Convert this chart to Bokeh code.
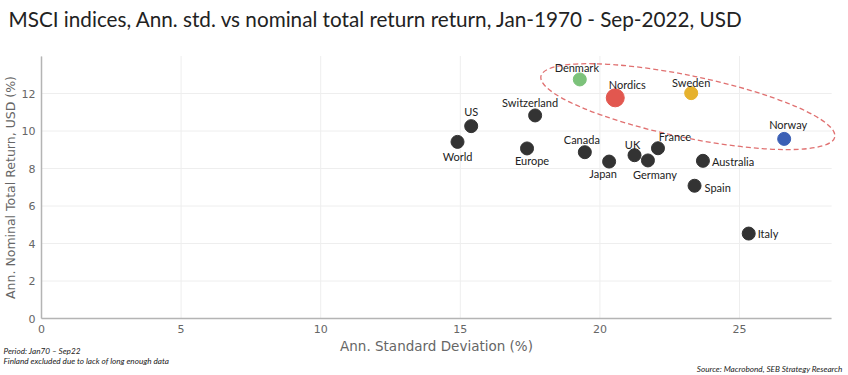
from bokeh.plotting import figure
from bokeh.models import Range1d, Label, ColumnDataSource, LabelSet, FixedTicker
from bokeh.embed import file_html
from bokeh.resources import INLINE
from bokeh.core.properties import value

# ---- data ----
names = ["World", "US", "Europe", "Switzerland", "Denmark", "Canada", "Japan", "Nordics",
         "UK", "Germany", "France", "Spain", "Sweden", "Australia", "Italy", "Norway"]
std_dev = [14.9, 15.39, 17.39, 17.68, 19.28, 19.46, 20.33, 20.55,
           21.24, 21.72, 22.08, 23.39, 23.27, 23.69, 25.33, 26.6]
total_return = [9.42, 10.26, 9.07, 10.83, 12.75, 8.87, 8.37, 11.77,
                8.71, 8.43, 9.08, 7.08, 12.02, 8.41, 4.53, 9.58]
x_ticks = [0, 5, 10, 15, 20, 25]
y_ticks = [0, 2, 4, 6, 8, 10, 12]
x_axis_end = 28.3
y_axis_end = 14
nordic_center = [23.15, 11.3]

TITLE = "MSCI indices, Ann. std. vs nominal total return return, Jan-1970 - Sep-2022, USD"
X_LABEL = "Ann. Standard Deviation (%)"
Y_LABEL = "Ann. Nominal Total Return, USD (%)"
NOTE_PERIOD = "Period:  Jan70 \u2013 Sep22"
NOTE_FINLAND = "Finland excluded due to lack of long enough data"
NOTE_SOURCE = "Source: Macrobond, SEB Strategy Research"

# ---- styles ----
DARK = "#333333"
colors = [DARK, DARK, DARK, DARK, "#7cc27a", DARK, DARK, "#e2574f",
          DARK, DARK, DARK, DARK, "#e6b22e", DARK, DARK, "#3b5fb5"]
sizes = [13, 13, 13, 13, 13, 13, 13, 18, 13, 13, 13, 13, 13, 13, 13, 13]
lab_dx = [0, 0, 5, -5, -3, -3, -6, 12, -2, 7, 17, 10, 0, 9, 9, 4]
lab_dy = [-15, 15, -12, 13, 12, 13, -12, 13, 11, -14, 12, -2, 11, -1, 0, 14]
lab_align = ["center"] * 11 + ["left", "center", "left", "left", "center"]

# canvas layout: the frame spans the whole canvas, axes sit at value 0
W, H = 848, 375
X_LO, X_HI = -1.4685, 28.904
Y_LO, Y_HI = -3.04, 16.96

src = ColumnDataSource(dict(x=std_dev, y=total_return, name=names, color=colors,
                            size=sizes, dx=lab_dx, dy=lab_dy, align=lab_align))

p = figure(width=W, height=H, output_backend="svg", toolbar_location=None, title=None,
           x_range=Range1d(X_LO, X_HI), y_range=Range1d(Y_LO, Y_HI),
           min_border_left=0, min_border_right=0, min_border_top=0, min_border_bottom=0)
p.outline_line_color = None
p.grid.visible = False

# light grid lines, drawn from the tick arrays
GRID = "#eeeeee"
p.segment(x0=x_ticks, y0=[0] * len(x_ticks), x1=x_ticks, y1=[y_axis_end] * len(x_ticks),
          line_color=GRID, line_width=1)
p.segment(x0=[0] * len(y_ticks), y0=y_ticks, x1=[x_axis_end] * len(y_ticks), y1=y_ticks,
          line_color=GRID, line_width=1)

for ax in (p.xaxis[0], p.yaxis[0]):
    ax.fixed_location = 0
    ax.axis_line_color = "#b4b4b4"
    ax.axis_line_width = 1.5
    ax.major_tick_line_color = None
    ax.minor_tick_line_color = None
    ax.major_label_text_font = "DejaVu Sans"
    ax.major_label_text_font_size = "11px"
    ax.major_label_text_color = "#666666"
    ax.major_label_standoff = 0
    ax.axis_label_text_font = "DejaVu Sans"
    ax.axis_label_text_font_style = "normal"
    ax.axis_label_text_color = "#666666"
p.xaxis.ticker = FixedTicker(ticks=x_ticks)
p.yaxis.ticker = FixedTicker(ticks=y_ticks)
p.xaxis.bounds = (0, x_axis_end)
p.yaxis.bounds = (0, y_axis_end)
p.xaxis.axis_label = X_LABEL
p.xaxis.axis_label_text_font_size = "13.5px"
p.xaxis.axis_label_standoff = 2
p.yaxis.axis_label = Y_LABEL
p.yaxis.axis_label_text_font_size = "12.5px"
p.yaxis.axis_label_standoff = 1

p.ellipse(x=[nordic_center[0]], y=[nordic_center[1]], width=300, height=62,
          width_units="screen", height_units="screen", angle=-0.204,
          fill_alpha=0, line_color="#e07070", line_dash="5 3", line_width=1.3)

p.scatter("x", "y", source=src, size="size", color="color", line_color="color")

labels = LabelSet(x="x", y="y", text="name", source=src, x_offset="dx", y_offset="dy",
                  text_align="align", text_baseline="middle", text_font=value("Lato"),
                  text_font_size="11px", text_color="#222222")
p.add_layout(labels)

scr = dict(x_units="screen", y_units="screen")
p.add_layout(Label(x=8, y=357, text=TITLE, text_font="Lato", text_font_size="20.7px",
                   text_color="#222222", text_baseline="alphabetic", **scr))
note = dict(text_font="Lato", text_font_style="italic", text_font_size="8.2px",
            text_color="#222222", text_baseline="middle", **scr)
p.add_layout(Label(x=3, y=25, text=NOTE_PERIOD, **note))
p.add_layout(Label(x=3, y=15, text=NOTE_FINLAND, **note))
p.add_layout(Label(x=842, y=7, text=NOTE_SOURCE, text_align="right", **note))

open("out.html", "w").write(file_html(p, INLINE))
